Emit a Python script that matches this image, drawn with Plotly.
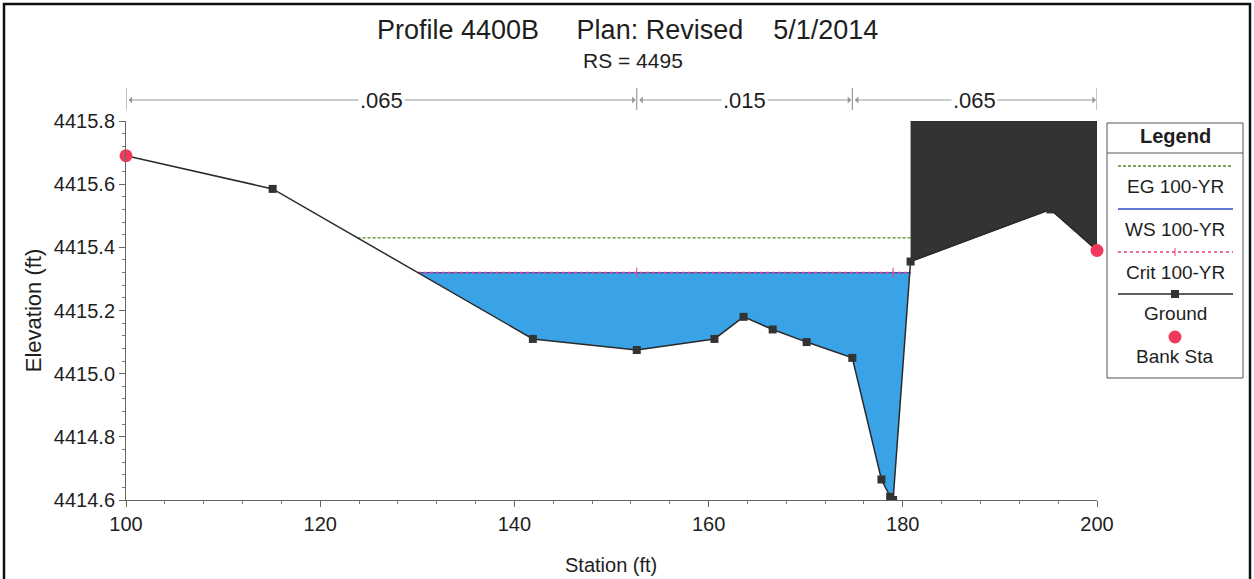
import numpy as np
import plotly.graph_objects as go

# ---------------- data ----------------
ground_sta = [100.0, 115.1, 141.9, 152.6, 160.6, 163.6, 166.6, 170.1, 174.8, 177.8, 178.7, 179.0, 180.8, 195.2, 200.0]
ground_elev = [4415.69, 4415.585, 4415.11, 4415.075, 4415.11, 4415.18, 4415.14, 4415.10, 4415.05, 4414.665, 4414.61, 4414.60, 4415.355, 4415.52, 4415.39]
bank_sta = [100.0, 200.0]
bank_elev = [4415.69, 4415.39]
ws_elev = 4415.32      # WS 100-YR
crit_elev = 4415.32    # Crit 100-YR
eg_elev = 4415.43      # EG 100-YR
crit_mark_sta = [152.6, 179.0]
block_sta = [180.8, 200.0]   # blocked obstruction
block_top = 4415.8
n_breaks = [100.0, 152.6, 174.8, 200.0]
n_values = [".065", ".015", ".065"]
x_range = [100, 200]
y_range = [4414.6, 4415.8]

W, H = 1254, 579
L, R, T, B = 126, 1097, 121, 500
FONT = "Liberation Sans, Arial, sans-serif"
TXT = "#1e1e1e"
EG_COLOR = "#4a8c22"


def px(X):
    return (X - L) / (R - L)


def py(Y):
    return (B - Y) / (B - T)


gs = np.array(ground_sta)
ge = np.array(ground_elev)


def crossing(level, i0, i1):
    # station where the ground segment i0..i1 crosses the given level
    for i in range(i0, i1):
        a, b = ge[i], ge[i + 1]
        if (a - level) * (b - level) <= 0 and a != b:
            return gs[i] + (level - a) / (b - a) * (gs[i + 1] - gs[i])
    return None


ws_left = crossing(ws_elev, 0, 4)
ws_right = crossing(ws_elev, 9, 13)
eg_left = crossing(eg_elev, 0, 4)
blk_i0 = ground_sta.index(block_sta[0])

# water polygon
inside = [i for i in range(len(gs)) if ws_left < gs[i] < ws_right]
wx = [ws_left] + [gs[i] for i in inside] + [ws_right]
wy = [ws_elev] + [ge[i] for i in inside] + [ws_elev]

fig = go.Figure()

fig.add_trace(go.Scatter(x=wx, y=wy, fill="toself", fillcolor="#3aa3e8",
                         mode="none", hoverinfo="skip", showlegend=False))

# blocked obstruction
bx = [gs[i] for i in range(blk_i0, len(gs))] + [block_sta[1], block_sta[0]]
by = [ge[i] for i in range(blk_i0, len(gs))] + [block_top, block_top]
fig.add_trace(go.Scatter(x=bx, y=by, fill="toself", fillcolor="#333333",
                         mode="lines", line=dict(color="#2a2a2a", width=1),
                         hoverinfo="skip", showlegend=False))

# EG
fig.add_trace(go.Scatter(x=[eg_left, block_sta[0]], y=[eg_elev, eg_elev], mode="lines",
                         line=dict(color=EG_COLOR, width=1.3, dash="3px,2px"),
                         name="EG 100-YR", showlegend=False))
# WS
fig.add_trace(go.Scatter(x=[ws_left, block_sta[0]], y=[ws_elev, ws_elev], mode="lines",
                         line=dict(color="#2a4fc0", width=1.3),
                         name="WS 100-YR", showlegend=False))
# Crit
fig.add_trace(go.Scatter(x=[ws_left, block_sta[0]], y=[crit_elev, crit_elev], mode="lines",
                         line=dict(color="#e8407c", width=1.6, dash="dot"),
                         name="Crit 100-YR", showlegend=False))
fig.add_trace(go.Scatter(x=crit_mark_sta, y=[crit_elev] * len(crit_mark_sta), mode="markers",
                         marker=dict(symbol="line-ns", size=7, line=dict(color="#e8407c", width=1)),
                         showlegend=False, hoverinfo="skip"))
# Ground
fig.add_trace(go.Scatter(x=ground_sta, y=ground_elev, mode="lines+markers",
                         line=dict(color="#2a2a2a", width=1.5),
                         marker=dict(symbol="square", size=8, color="#333333"),
                         name="Ground", showlegend=False))
# Bank stations
fig.add_trace(go.Scatter(x=bank_sta, y=bank_elev, mode="markers",
                         marker=dict(symbol="circle", size=13, color="#f2385c"),
                         name="Bank Sta", showlegend=False, cliponaxis=False))

shapes = []
annotations = []


def label(X, Y, text, size, bold=False, bg=None):
    d = dict(x=px(X), y=py(Y), xref="paper", yref="paper",
             text=f"<b>{text}</b>" if bold else text,
             showarrow=False, xanchor="center", yanchor="middle",
             font=dict(family=FONT, size=size, color=TXT))
    if bg:
        d["bgcolor"] = bg
    annotations.append(d)


# outer frame
shapes.append(dict(type="rect", xref="paper", yref="paper",
                   x0=px(4), x1=px(1250), y0=py(600), y1=py(4),
                   line=dict(color="#111111", width=2.5), layer="above"))

# Manning's n arrows
arrow_y = py(100)
for xb in n_breaks:
    shapes.append(dict(type="line", xref="x", yref="paper", x0=xb, x1=xb,
                       y0=py(110), y1=py(88), line=dict(color="#888888", width=1)))
for i, nv in enumerate(n_values):
    a, b = n_breaks[i], n_breaks[i + 1]
    annotations.append(dict(x=b, y=arrow_y, xref="x", yref="paper", ax=a, ay=0,
                            axref="x", ayref="pixel", text="", showarrow=True,
                            arrowhead=1, startarrowhead=1, arrowside="end+start",
                            arrowsize=1.2, arrowwidth=1, arrowcolor="#999999",
                            standoff=1, startstandoff=1))
    annotations.append(dict(x=(a + b) / 2, y=arrow_y, xref="x", yref="paper", text=nv,
                            showarrow=False, bgcolor="white", xanchor="center", yanchor="middle",
                            font=dict(family=FONT, size=22, color=TXT)))

# title
sp = "&nbsp;"
label(627, 30, "Profile 4400B" + sp * 5 + "Plan: Revised" + sp * 4 + "5/1/2014", 27)
label(633, 61, "RS = 4495", 21)
# x-axis title
label(611, 565, "Station (ft)", 20)

# custom legend
LX0, LX1, LY0, LY1 = 1107, 1243, 123, 378
shapes.append(dict(type="rect", xref="paper", yref="paper", x0=px(LX0), x1=px(LX1),
                   y0=py(LY1), y1=py(LY0), line=dict(color="#555555", width=1)))
shapes.append(dict(type="line", xref="paper", yref="paper", x0=px(LX0), x1=px(LX1),
                   y0=py(153), y1=py(153), line=dict(color="#555555", width=1)))
label((LX0 + LX1) / 2, 136, "Legend", 20, bold=True)
lx0, lx1, lxm = 1118, 1233, 1175
legend_rows = [
    ("EG 100-YR", 166, 186, dict(color=EG_COLOR, width=1.3, dash="3px,2px")),
    ("WS 100-YR", 209, 229, dict(color="#2a4fc0", width=1.3)),
    ("Crit 100-YR", 252, 272, dict(color="#e8407c", width=1.6, dash="dot")),
    ("Ground", 294, 313, dict(color="#2a2a2a", width=1.5)),
]
for name, ly, ty, ln in legend_rows:
    shapes.append(dict(type="line", xref="paper", yref="paper", x0=px(lx0), x1=px(lx1),
                       y0=py(ly), y1=py(ly), line=ln))
    label(lxm, ty, name, 19)
# crit tick in legend
shapes.append(dict(type="line", xref="paper", yref="paper", x0=px(lxm), x1=px(lxm),
                   y0=py(256), y1=py(248), line=dict(color="#e8407c", width=1)))
# ground square in legend
shapes.append(dict(type="rect", xref="paper", yref="paper", x0=px(lxm - 4), x1=px(lxm + 4),
                   y0=py(298), y1=py(290), fillcolor="#333333", line=dict(width=0)))
# bank sta circle
shapes.append(dict(type="circle", xref="paper", yref="paper", x0=px(lxm - 6.5), x1=px(lxm + 6.5),
                   y0=py(343.5), y1=py(330.5), fillcolor="#f2385c", line=dict(width=0)))
label(lxm, 356, "Bank Sta", 19)

fig.update_layout(
    width=W, height=H,
    margin=dict(l=L, r=W - R, t=T, b=H - B),
    paper_bgcolor="white", plot_bgcolor="white",
    shapes=shapes, annotations=annotations,
    showlegend=False,
    font=dict(family=FONT, color=TXT),
)
fig.update_xaxes(range=x_range, tick0=100, dtick=20, ticks="outside", ticklen=6,
                 tickcolor="#666666", showline=True, linecolor="#666666", linewidth=1,
                 showgrid=False, zeroline=False, automargin=False,
                 minor=dict(dtick=4, ticks="outside", ticklen=3, tickcolor="#777777", showgrid=False),
                 tickfont=dict(family=FONT, size=20, color=TXT))
fig.update_yaxes(range=y_range, tick0=4414.6, dtick=0.2, tickformat=".1f", ticks="outside", ticklen=6,
                 tickcolor="#666666", showline=True, linecolor="#666666", linewidth=1,
                 showgrid=False, zeroline=False, automargin=False,
                 minor=dict(dtick=0.04, ticks="outside", ticklen=3, tickcolor="#777777", showgrid=False),
                 tickfont=dict(family=FONT, size=20, color=TXT),
                 title=dict(text="Elevation (ft)", font=dict(family=FONT, size=22, color=TXT),
                            standoff=6))

fig.write_html("out.html")
